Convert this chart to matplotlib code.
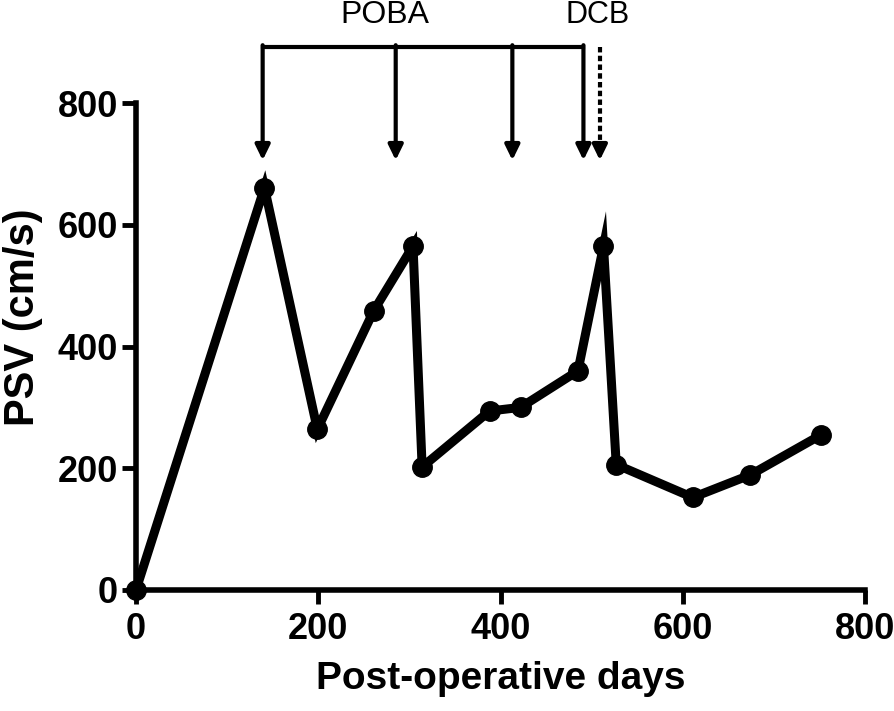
import matplotlib.pyplot as plt

# PSV follow-up data
days = [0, 141, 199, 261, 304, 314, 388, 422, 485, 513, 527, 611, 674, 752]
psv = [0, 661, 264, 459, 565, 202, 294, 300, 360, 565, 206, 152, 189, 255]

# intervention days
poba_days = [139, 285, 413, 491]
dcb_day = 509

plt.rcParams["font.family"] = ["Liberation Sans", "DejaVu Sans"]

fig = plt.figure(figsize=(8.94, 7.11), dpi=100)
ax = fig.add_axes([0.1521, 0.1702, 0.8155, 0.6849])

ax.plot(days, psv, color="black", lw=6.5, marker="o", markersize=14,
        solid_joinstyle="miter", clip_on=False, zorder=3)

ax.set_xlim(0, 800)
ax.set_ylim(0, 800)
ax.set_xticks([0, 200, 400, 600, 800])
ax.set_yticks([0, 200, 400, 600, 800])

for side in ["top", "right"]:
    ax.spines[side].set_visible(False)
for side in ["left", "bottom"]:
    ax.spines[side].set_linewidth(4)
ax.tick_params(axis="both", length=10, width=3.5, labelsize=26)
ax.tick_params(axis="x", pad=6)
ax.tick_params(axis="y", pad=3)
for lab in ax.get_xticklabels() + ax.get_yticklabels():
    lab.set_fontweight("bold")

ax.set_xlabel("Post-operative days", fontsize=28, fontweight="bold", labelpad=10)
ax.set_ylabel("PSV (cm/s)", fontsize=30, fontweight="bold")
ax.yaxis.set_label_coords(-0.127, 0.56)

# POBA bracket and arrows
top_y, tip_y = 892, 706
ax.plot([poba_days[0], poba_days[-1]], [top_y, top_y], color="black", lw=3,
        solid_capstyle="projecting", clip_on=False)
for d in poba_days:
    ax.annotate("", xy=(d, tip_y), xytext=(d, top_y + 3), annotation_clip=False,
                arrowprops=dict(arrowstyle="-|>,head_length=0.45,head_width=0.22",
                                mutation_scale=20, lw=3, color="black",
                                shrinkA=0, shrinkB=0))

# DCB dotted arrow
ax.plot([dcb_day, dcb_day], [top_y, tip_y + 20], color="black", lw=3,
        linestyle=(0, (1.3, 0.8)), clip_on=False)
ax.annotate("", xy=(dcb_day, tip_y), xytext=(dcb_day, tip_y + 22), annotation_clip=False,
            arrowprops=dict(arrowstyle="-|>,head_length=0.45,head_width=0.22",
                            mutation_scale=20, lw=3, color="black",
                            shrinkA=0, shrinkB=0))

ax.text(273, 944, "POBA", ha="center", va="center", fontsize=23, clip_on=False)
ax.text(507, 944, "DCB", ha="center", va="center", fontsize=22, clip_on=False)

fig.savefig("out.png", dpi=100, facecolor="white")
